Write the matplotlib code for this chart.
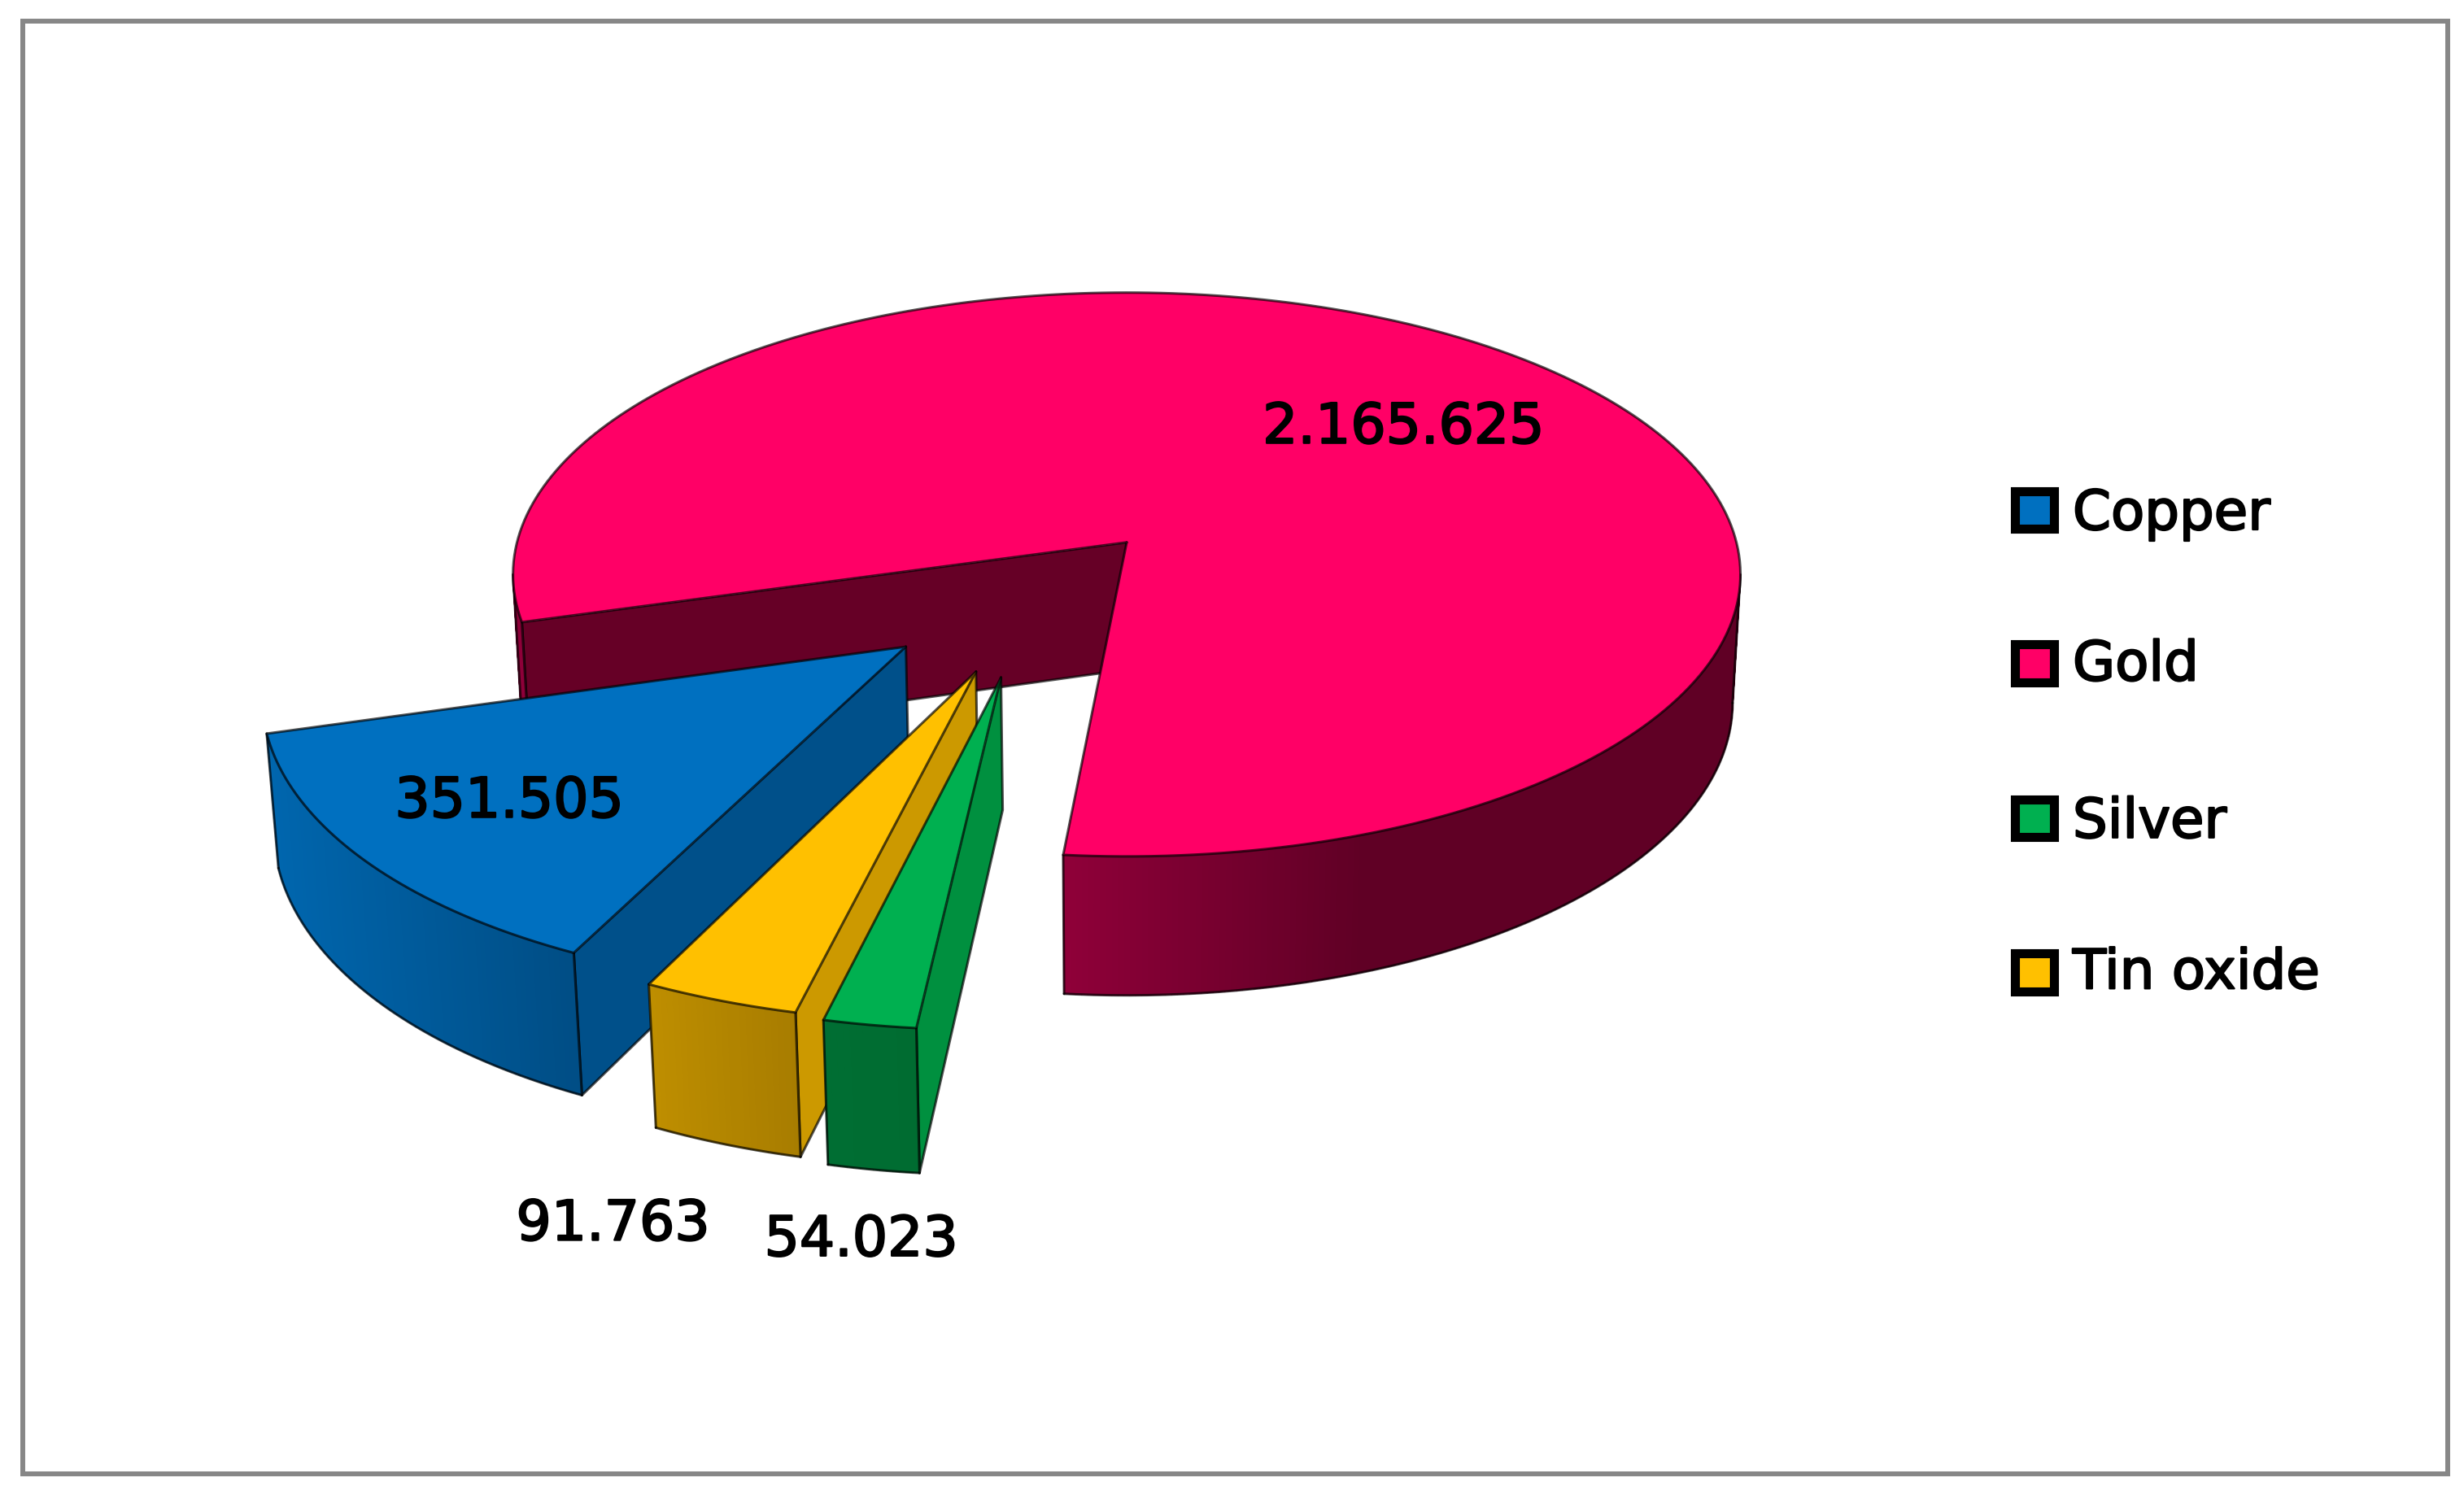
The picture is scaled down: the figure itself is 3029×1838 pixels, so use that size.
import numpy as np
import matplotlib
matplotlib.use("Agg")
import matplotlib.pyplot as plt
import matplotlib.patheffects as pe
from matplotlib.patches import Rectangle

# data
names = ["Copper", "Gold", "Silver", "Tin oxide"]
values = [351505, 2165625, 54023, 91763]
top_colors = ["#0070C0", "#FF0066", "#00B050", "#FFC000"]
wall_colors = ["#00508A", "#660026", "#00903F", "#CC9900"]
rim_near = ["#0066AE", "#8F0039", "#006E33", "#BE8E00"]
rim_far = ["#004E86", "#600025", "#006C31", "#A87D00"]
rim_span = [190, 190, 60, 90]

# pie placement, in the 1568x951 view of the picture
cx, cy = 717, 345
rx, ry = 388, 177
persp = 0.114
depth = 82
shrink = 0.0128
gold_end = 95.3          # clockwise from +x on screen
stretch = 1.02           # exploded slices come out a bit wider in the original
explode = 0.5
explode_dir = [134.0, 0, 113.0, 118.0]
draw_order = [1, 0, 3, 2]

label_pos = [(324, 510), (893, 272), (548, 789), (390, 779)]
legend_y = [324.5, 422, 520.5, 618.5]
legend_text_y = [327, 423, 523, 619]

z = [2]


def next_z():
    z[0] += 0.01
    return z[0]


def project(X, Y, low=False):
    w = 1 - persp * Y + (shrink if low else 0)
    return cx + rx * X / w, cy + (ry * Y + (depth if low else 0)) / w


def ring(off, a):
    t = np.radians(a)
    return off[0] + np.cos(t), off[1] + np.sin(t)


def fmt(v):
    return f"{v:,}".replace(",", ".")


def outline(ax, xs, ys):
    ax.plot(xs, ys, color="#000000", alpha=0.68, lw=2.2, solid_capstyle="round",
            zorder=next_z())


def lerp_color(c0, c1, t):
    a = np.array(matplotlib.colors.to_rgb(c0))
    b = np.array(matplotlib.colors.to_rgb(c1))
    return a + (b - a) * t


def draw_rim(ax, i, off, a0, a1):
    aa = np.linspace(a0, a1, max(int(a1 - a0) * 2, 12) + 1)
    xt, yt = project(*ring(off, aa))
    xb, yb = project(*ring(off, aa), low=True)
    left = min(xt.min(), xb.min())
    zz = next_z()
    for j in range(len(aa) - 1):
        t = np.clip((0.5 * (xt[j] + xt[j + 1]) - left) / rim_span[i], 0, 1)
        c = lerp_color(rim_near[i], rim_far[i], t)
        ax.fill([xt[j], xt[j + 1], xb[j + 1], xb[j]],
                [yt[j], yt[j + 1], yb[j + 1], yb[j]],
                facecolor=c, edgecolor=c, lw=1.0, zorder=zz)
    outline(ax, xb, yb)
    outline(ax, [xt[0], xb[0]], [yt[0], yb[0]])
    outline(ax, [xt[-1], xb[-1]], [yt[-1], yb[-1]])


def draw_wall(ax, i, off, a):
    x0, y0 = project(*off)
    x1, y1 = project(*ring(off, a))
    x2, y2 = project(*ring(off, a), low=True)
    x3, y3 = project(*off, low=True)
    ax.fill([x0, x1, x2, x3], [y0, y1, y2, y3], facecolor=wall_colors[i],
            edgecolor="none", zorder=next_z())
    outline(ax, [x1, x2, x3, x0], [y1, y2, y3, y0])


fig = plt.figure(figsize=(30.29, 18.38), dpi=100)
ax = fig.add_axes([0, 0, 1, 1])
ax.set_xlim(0, 1568)
ax.set_ylim(951, 0)
ax.axis("off")

ax.add_patch(Rectangle((14.5, 13.5), 1543, 924, fill=False, edgecolor="#878787", lw=4.3))

# slice angles follow the values, clockwise, silver right after gold
total = sum(values)
spans = [v / total * 360 * stretch for v in values]
starts = {2: gold_end}
ends = {2: starts[2] + spans[2]}
starts[3] = ends[2]
ends[3] = starts[3] + spans[3]
starts[0] = ends[3]
ends[0] = starts[0] + spans[0]
starts[1] = ends[0]
ends[1] = gold_end + 360

tilt = np.degrees(np.arcsin(persp))

for i in draw_order:
    a0, a1 = starts[i], ends[i]
    if i == 1:
        off = (0.0, 0.0)
        draw_wall(ax, i, off, a0)
        draw_rim(ax, i, off, a0, 180 - tilt)
        draw_rim(ax, i, off, 360 + tilt, a1)
    else:
        d = np.radians(explode_dir[i])
        off = (explode * np.cos(d), explode * np.sin(d))
        draw_wall(ax, i, off, a0)
        draw_rim(ax, i, off, a0, a1)
    aa = np.linspace(a0, a1, 240)
    xs, ys = project(*ring(off, aa))
    x0, y0 = project(*off)
    px = np.r_[x0, xs, x0]
    py = np.r_[y0, ys, y0]
    ax.fill(px, py, facecolor=top_colors[i], edgecolor="none", zorder=next_z())
    outline(ax, px, py)

heavy = [pe.withStroke(linewidth=1.6, foreground="black")]
for i, v in enumerate(values):
    ax.text(label_pos[i][0], label_pos[i][1], fmt(v), fontsize=49, family="DejaVu Sans",
            color="black", ha="center", va="center", zorder=10, path_effects=heavy)

# legend
for i, name in enumerate(names):
    ax.add_patch(Rectangle((1282, legend_y[i] - 12), 25, 24, facecolor=top_colors[i],
                           edgecolor="black", lw=8.0))
    ax.text(1319, legend_text_y[i], name, fontsize=48.5, family="DejaVu Sans",
            color="black", ha="left", va="center", zorder=10, path_effects=heavy)

fig.savefig("out.png", dpi=100, facecolor="white")
